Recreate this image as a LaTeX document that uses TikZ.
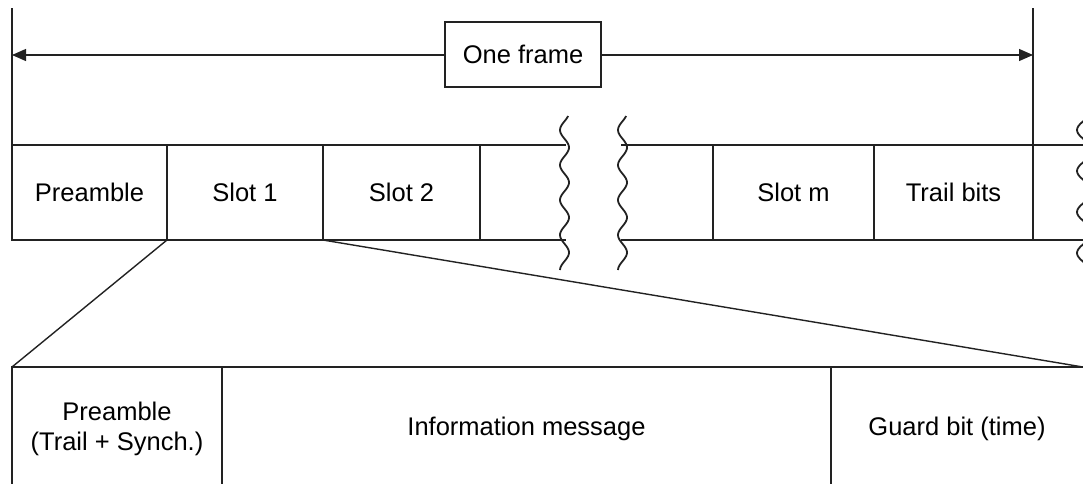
\documentclass[tikz,border=0pt]{standalone}
\usepackage{fontspec}
\setmainfont{Liberation Sans}
\usetikzlibrary{arrows.meta}
\definecolor{ink}{HTML}{222222}
\begin{document}
\begin{tikzpicture}[x=1pt,y=-1pt,
  font=\fontsize{25.5}{30}\selectfont,
  every node/.style={outer sep=0pt},
  cell/.style={draw=ink, line width=2.2pt, minimum height=95, inner sep=0pt, anchor=north west},
  lowcell/.style={draw=ink, line width=2.2pt, minimum height=124, inner sep=0pt, anchor=north west, align=center},
  rowline/.style={draw=ink, line width=2.2pt},
  thin/.style={draw=ink, line width=1.2pt},
  slant/.style={draw=ink, line width=1.4pt},
  wave/.style={draw=ink, line width=1.8pt},
  dimarrow/.style={thin, -{Triangle[length=14pt,width=12pt]}}]
\useasboundingbox (0,0) rectangle (1083,483);
\clip (0,0) rectangle (1083,483);

% frame row
\node[cell, minimum width=155] (pre) at (12,145) {Preamble};
\node[cell, minimum width=156] (s1) at (167,145) {Slot 1};
\node[cell, minimum width=157] (s2) at (323,145) {Slot 2};
\node[cell, minimum width=161] (sm) at (713,145) {Slot m};
\node[cell, minimum width=159] (tb) at (874,145) {Trail bits};

% break coordinates
\coordinate (b1) at (566,145);
\coordinate (b2) at (621,145);
\coordinate (er) at (1090,145);
\draw[rowline] (s2.north east) -- (s2.north east -| b1);
\draw[rowline] (s2.south east) -- (s2.south east -| b1);
\draw[rowline] (sm.north west -| b2) -- (sm.north west);
\draw[rowline] (sm.south west -| b2) -- (sm.south west);
\draw[rowline] (tb.north east) -- (tb.north east -| er);
\draw[rowline] (tb.south east) -- (tb.south east -| er);

% break squiggles
\draw[wave] plot[domain=116:270, samples=90, smooth] ({564.5-4.5*cos((\x-130)*10.2857)}, \x);
\draw[wave] plot[domain=116:270, samples=90, smooth] ({622.5-4.5*cos((\x-130)*10.2857)}, \x);
\draw[wave] plot[domain=110:270, samples=90, smooth] ({1085-8*cos((\x-130)*8.7805)}, \x);

% one frame dimension
\node[draw=ink, line width=2.2pt, minimum width=156, minimum height=65, inner sep=0pt] (of) at (523,54.5) {One frame};
\coordinate (lt) at (12,8);
\coordinate (rt) at (1033,8);
\coordinate (la) at (12,55);
\coordinate (ra) at (1033,55);
\draw[thin] (lt) -- (pre.north west);
\draw[thin] (rt) -- (tb.north east);
\draw[dimarrow] (of.west |- la) -- (la);
\draw[dimarrow] (of.east |- ra) -- (ra);

% slot detail row
\node[lowcell, minimum width=210] (ipre) at (12,367) {Preamble\\(Trail + Synch.)};
\node[lowcell, minimum width=609] (info) at (222,367) {Information message};
\node[lowcell, minimum width=300] (guard) at (831,367) {};
\node (guardtext) at (957,429) {Guard bit (time)};
\coordinate (zr) at (1083,367);
\draw[slant] (s1.south west) -- (ipre.north west);
\draw[slant] (s2.south west) -- (zr);
\end{tikzpicture}
\end{document}
